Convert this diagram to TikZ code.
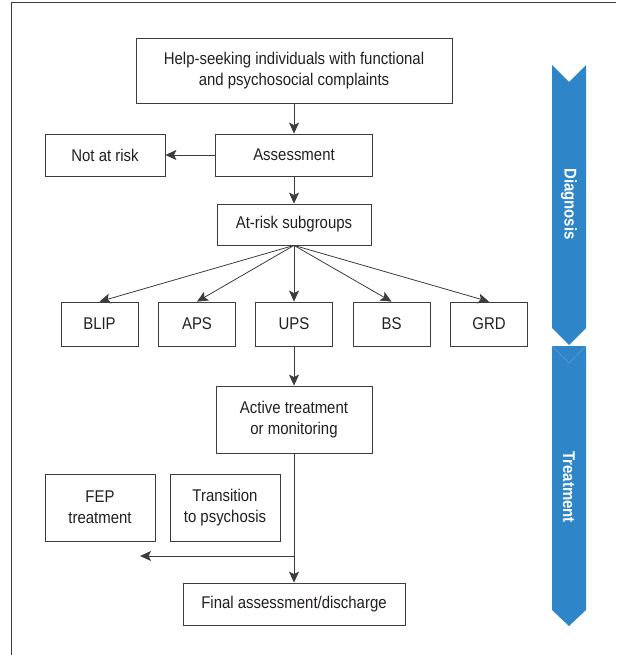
\documentclass[tikz,border=0pt]{standalone}
\usepackage{fontspec}
\setmainfont[FakeStretch=0.88]{Liberation Sans}
\usepackage{tikz}
\usetikzlibrary{arrows.meta, positioning}

\definecolor{inkgray}{RGB}{35,31,32}
\definecolor{linegray}{RGB}{60,60,60}
\definecolor{phaseblue}{RGB}{46,134,200}
\definecolor{notchblue}{RGB}{90,160,215}

\tikzset{
    box/.style={draw=linegray, line width=0.8pt, text=inkgray, align=center,
        inner sep=0pt, minimum height=42pt},
    flow/.style={draw=linegray, line width=0.8pt, -{Stealth[length=11pt, width=10pt, inset=2.5pt]}},
    phase/.style={fill=phaseblue, draw=none},
    phaselabel/.style={text=white, font=\fontsize{17}{21}\selectfont\bfseries, rotate=-90}
}

\begin{document}
\begin{tikzpicture}[x=1pt, y=-1pt, font=\fontsize{17}{21}\selectfont]
    % Define coordinates
    \def\mid{294}  % centre line of the main column
    \def\rowy{324} % row of the five subgroups
    \def\sub{77}   % width of a subgroup box

    \useasboundingbox (0,0) rectangle (616,655);

    % Frame (only top and left edges show)
    \draw[linegray, line width=0.9pt] (11,655) -- (11,2) -- (616,2);

    % Main column
    \node[box, minimum width=316pt, minimum height=65pt] (help) at (\mid,70.5)
        {Help-seeking individuals with functional\\and psychosocial complaints};
    \node[box, minimum width=157pt] (assess) at (\mid,155) {Assessment};
    \node[box, minimum width=120pt] (norisk) at (105,155) {Not at risk};
    \node[box, minimum width=154pt, minimum height=41pt] (atrisk) at (\mid,224.5) {At-risk subgroups};

    % Subgroups
    \node[box, minimum width=\sub pt, minimum height=44pt] (blip) at (99.5,\rowy) {BLIP};
    \node[box, minimum width=\sub pt, minimum height=44pt] (aps) at (197,\rowy) {APS};
    \node[box, minimum width=\sub pt, minimum height=44pt] (ups) at (\mid,\rowy) {UPS};
    \node[box, minimum width=\sub pt, minimum height=44pt] (bs) at (391.5,\rowy) {BS};
    \node[box, minimum width=\sub pt, minimum height=44pt] (grd) at (489,\rowy) {GRD};

    % Treatment part
    \node[box, minimum width=156pt, minimum height=67pt] (active) at (\mid,419.5)
        {Active treatment\\or monitoring};
    \node[box, minimum width=110pt, minimum height=67pt] (fep) at (100,507.5) {FEP\\treatment};
    \node[box, minimum width=110pt, minimum height=67pt] (trans) at (225,507.5) {Transition\\to psychosis};
    \node[box, minimum width=222pt] (final) at (\mid,604) {Final assessment/discharge};

    \coordinate (split) at (\mid,556);
    \coordinate (lost) at (140,556);

    % Connectors
    \draw[flow] (help) -- (assess);
    \draw[flow] (assess) -- (norisk);
    \draw[flow] (assess) -- (atrisk);
    \foreach \g in {blip,aps,ups,bs,grd} {
        \draw[flow] (atrisk.south) -- (\g.north);
    }
    \draw[flow] (ups) -- (active);
    \draw[flow] (active) -- (final);
    \draw[flow] (split) -- (lost);

    % Phase arrows on the right
    \fill[phase] (552,65) -- (569,82) -- (586,65) -- (586,328) -- (569,345) -- (552,328) -- cycle;
    \fill[phase] (552,346) -- (586,346) -- (586,610) -- (569,626) -- (552,610) -- cycle;
    \draw[notchblue, line width=0.5pt] (552,346) -- (569,363) -- (586,346);
    \node[phaselabel] (diag) at (569,204) {Diagnosis};
    \node[phaselabel] (treat) at (569,487) {Treatment};
\end{tikzpicture}
\end{document}
